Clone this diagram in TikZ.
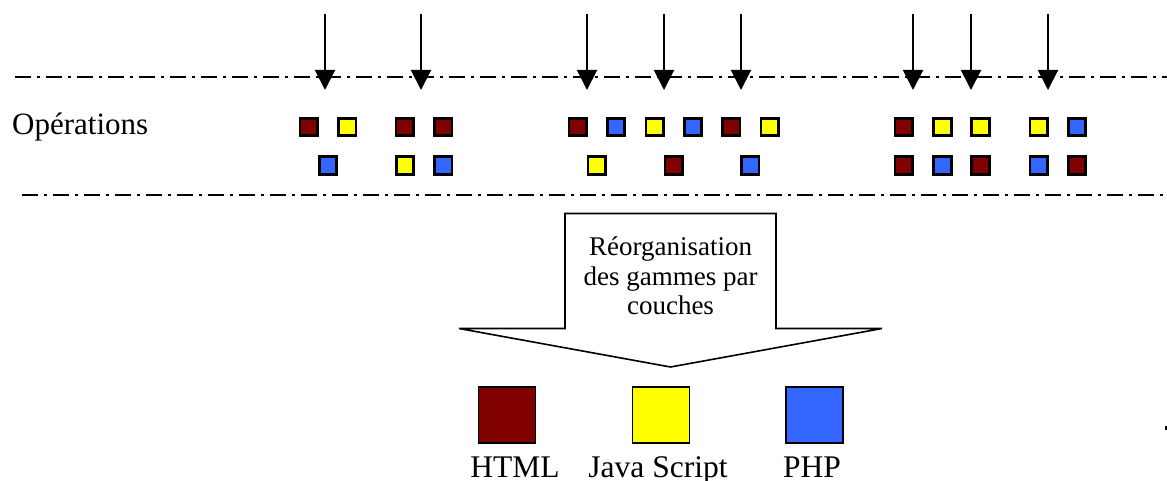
\documentclass[tikz,border=0pt]{standalone}
\usepackage{fontspec}
\setmainfont{Liberation Serif}
\usetikzlibrary{arrows.meta}

\definecolor{htmlc}{HTML}{800000}
\definecolor{jsc}{HTML}{FFFF00}
\definecolor{phpc}{HTML}{3366FF}

\tikzset{
  sep/.style={line width=1.8pt, dash pattern=on 16pt off 6pt on 3pt off 6pt},
  op/.style={draw=black, line width=2.6pt, minimum size=17.5pt, inner sep=0pt, outer sep=0pt},
  H/.style={op, fill=htmlc},
  J/.style={op, fill=jsc},
  P/.style={op, fill=phpc},
  key/.style={draw=black, line width=1.6pt, minimum width=57pt, minimum height=56pt, inner sep=0pt},
  flow/.style={line width=2pt, -{Triangle[width=20pt,length=20pt]}},
  lbl/.style={font=\fontsize{31.5}{34}\selectfont, inner sep=0pt, anchor=base},
}

\begin{document}
\begin{tikzpicture}[x=1pt, y=-1pt]
\useasboundingbox (0,0) rectangle (1167,481);

% separator lines
\coordinate (s1a) at (15,77);  \coordinate (s1b) at (1167,77);
\coordinate (s2a) at (22,195); \coordinate (s2b) at (1167,195);
\draw[sep] (s1a) -- (s1b);
\draw[sep] (s2a) -- (s2b);

% incoming requests
\foreach \i/\x in {1/325,2/421,3/587,4/664,5/741,6/913,7/971,8/1048}{
  \coordinate (top\i) at (\x,14);
  \coordinate (hit\i) at (\x,90);
  \draw[flow] (top\i) -- (hit\i);
}

\node[font=\fontsize{31}{34}\selectfont, inner sep=0pt, anchor=base west] (ops) at (12,135) {Opérations};

% first group
\node[H] (g1a) at (308.7,127) {};
\node[J] (g1b) at (347.3,127) {};
\node[H] (g1c) at (404.7,127) {};
\node[H] (g1d) at (443.3,127) {};
\node[P] (g1e) at (328,165.5) {};
\node[J] (g1f) at (405,165.5) {};
\node[P] (g1g) at (443.3,165.5) {};

% second group
\node[H] (g2a) at (577.7,127) {};
\node[P] (g2b) at (616,127) {};
\node[J] (g2c) at (654.7,127) {};
\node[P] (g2d) at (693,127) {};
\node[H] (g2e) at (731.3,127) {};
\node[J] (g2f) at (769.7,127) {};
\node[J] (g2g) at (596.7,165.5) {};
\node[H] (g2h) at (673.7,165.5) {};
\node[P] (g2i) at (750.3,165.5) {};

% third group
\node[H] (g3a) at (903.8,127) {};
\node[J] (g3b) at (942.5,127) {};
\node[J] (g3c) at (980.5,127) {};
\node[J] (g3d) at (1038.7,127) {};
\node[P] (g3e) at (1077,127) {};
\node[H] (g3f) at (903.8,165.5) {};
\node[P] (g3g) at (942.5,165.5) {};
\node[H] (g3h) at (980.5,165.5) {};
\node[P] (g3i) at (1038.7,165.5) {};
\node[H] (g3j) at (1077,165.5) {};

% block arrow
\draw[line width=1.6pt, line join=miter]
  (565,213.5) -- (776,213.5) -- (776,328.5) -- (882,328.5)
  -- (670.5,367) -- (459,328.5) -- (565,328.5) -- cycle;
\node[font=\fontsize{27}{29.5}\selectfont, align=center, inner sep=0pt] (reorg) at (670.5,276)
  {Réorganisation\\des gammes par\\couches};

% legend
\node[key, fill=htmlc] (kh) at (507,415) {};
\node[key, fill=jsc]   (kj) at (661,415) {};
\node[key, fill=phpc]  (kp) at (814.5,415) {};
\node[lbl] (th) at (515,477) {HTML};
\node[lbl] (tj) at (658,477) {Java Script};
\node[lbl] (tp) at (812,477) {PHP};

\fill (1165,426) rectangle (1166.5,430);
\end{tikzpicture}
\end{document}
